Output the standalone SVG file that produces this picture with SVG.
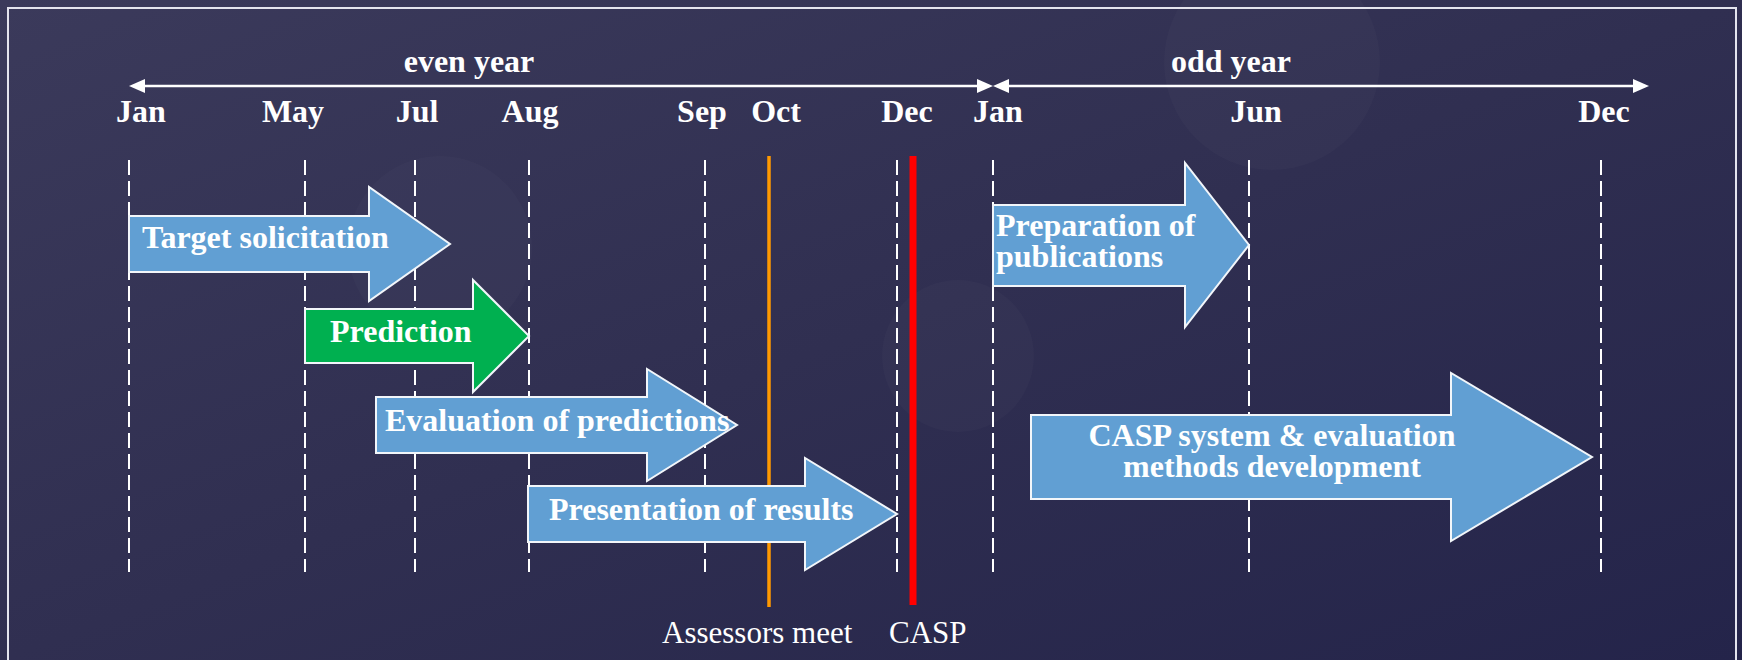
<svg xmlns="http://www.w3.org/2000/svg" width="1742" height="660" viewBox="0 0 1742 660">
<defs>
<linearGradient id="bg" x1="0" y1="0" x2="1" y2="1">
<stop offset="0" stop-color="#3b3a5b"/>
<stop offset="0.5" stop-color="#302f51"/>
<stop offset="1" stop-color="#24244a"/>
</linearGradient>
<marker id="ah" markerUnits="userSpaceOnUse" markerWidth="17" markerHeight="15" refX="0" refY="7" orient="auto-start-reverse">
<path d="M0,0 L16,7 L0,14 z" fill="#ffffff"/>
</marker>
<style>
.lbl{font-family:"Liberation Serif","Times New Roman",serif;font-weight:bold;font-size:32px;fill:#ffffff}
.reg{font-family:"Liberation Serif","Times New Roman",serif;font-size:31px;fill:#ffffff}
.mid{text-anchor:middle}
.dash{stroke:#ffffff;stroke-width:2;stroke-dasharray:15 6;fill:none}
.blk{fill:#619fd3;stroke:#f2f6fa;stroke-width:2}
.grn{fill:#00b050;stroke:#f2f6fa;stroke-width:2}
.axis{stroke:#ffffff;stroke-width:2.5;fill:none}
</style>
</defs>
<rect x="0" y="0" width="1742" height="660" fill="url(#bg)"/>
<g id="bokeh" fill="#ffffff">
<circle cx="440" cy="248" r="92" opacity="0.02"/>
<circle cx="1272" cy="62" r="108" opacity="0.02"/>
<circle cx="958" cy="356" r="76" opacity="0.02"/>
</g>
<rect x="8" y="8" width="1728" height="720" fill="none" stroke="#e4e4ee" stroke-width="2"/>

<g id="gridlines">
<line class="dash" x1="129" y1="160" x2="129" y2="572"/>
<line class="dash" x1="305" y1="160" x2="305" y2="572"/>
<line class="dash" x1="415" y1="160" x2="415" y2="572"/>
<line class="dash" x1="529" y1="160" x2="529" y2="572"/>
<line class="dash" x1="705" y1="160" x2="705" y2="572"/>
<line class="dash" x1="897" y1="160" x2="897" y2="572"/>
<line class="dash" x1="993" y1="160" x2="993" y2="572"/>
<line class="dash" x1="1249" y1="160" x2="1249" y2="572"/>
<line class="dash" x1="1601" y1="160" x2="1601" y2="572"/>
</g>

<g id="assessors-meet">
<line x1="769" y1="156" x2="769" y2="607" stroke="#ff9900" stroke-width="3.5"/>
<text class="reg" x="662" y="643">Assessors meet</text>
</g>
<g id="casp-meeting">
<line x1="913" y1="156" x2="913" y2="605" stroke="#ff0000" stroke-width="7"/>
<text class="reg" x="889" y="643">CASP</text>
</g>

<g id="connectors">
<line class="axis" x1="145" y1="86" x2="977" y2="86" marker-start="url(#ah)" marker-end="url(#ah)"/>
<line class="axis" x1="1009" y1="86" x2="1633" y2="86" marker-start="url(#ah)" marker-end="url(#ah)"/>
</g>

<g id="year-labels">
<text class="lbl mid" x="469" y="72">even year</text>
<text class="lbl mid" x="1231" y="72">odd year</text>
</g>
<g id="month-labels">
<text class="lbl mid" x="141" y="122">Jan</text>
<text class="lbl mid" x="293" y="122">May</text>
<text class="lbl mid" x="417" y="122">Jul</text>
<text class="lbl mid" x="530" y="122">Aug</text>
<text class="lbl mid" x="702" y="122">Sep</text>
<text class="lbl mid" x="776" y="122">Oct</text>
<text class="lbl mid" x="907" y="122">Dec</text>
<text class="lbl mid" x="998" y="122">Jan</text>
<text class="lbl mid" x="1256" y="122">Jun</text>
<text class="lbl mid" x="1604" y="122">Dec</text>
</g>

<g id="target-solicitation">
<path class="blk" d="M129,216 L369,216 L369,187 L450,244 L369,301 L369,272 L129,272 Z"/>
<text class="lbl" x="142" y="248">Target solicitation</text>
</g>
<g id="prediction">
<path class="grn" d="M305,309 L473,309 L473,280 L529,336 L473,392 L473,363 L305,363 Z"/>
<text class="lbl" x="330" y="342">Prediction</text>
</g>
<g id="evaluation">
<path class="blk" d="M376,397 L647,397 L647,369 L737,425 L647,481 L647,453 L376,453 Z"/>
<text class="lbl" x="385" y="431">Evaluation of predictions</text>
</g>
<g id="presentation">
<path class="blk" d="M528,486 L805,486 L805,458 L897,514 L805,570 L805,542 L528,542 Z"/>
<text class="lbl" x="549" y="520">Presentation of results</text>
</g>
<g id="publications">
<path class="blk" d="M993,205 L1185,205 L1185,163 L1249,245 L1185,327 L1185,286 L993,286 Z"/>
<text class="lbl" x="996" y="236">Preparation of</text>
<text class="lbl" x="996" y="267">publications</text>
</g>
<g id="development">
<path class="blk" d="M1031,415 L1451,415 L1451,373 L1592,457 L1451,541 L1451,499 L1031,499 Z"/>
<text class="lbl mid" x="1272" y="446">CASP system &amp; evaluation</text>
<text class="lbl mid" x="1272" y="477">methods development</text>
</g>
</svg>
